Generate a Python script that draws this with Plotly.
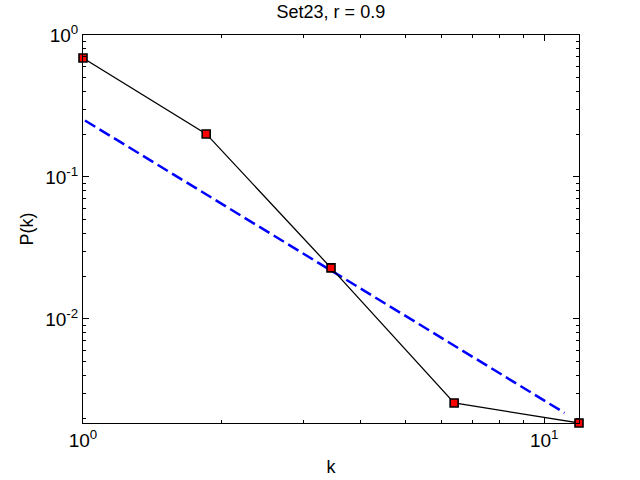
import plotly.graph_objects as go
import math

# data
k_vals = [1.0, 1.85, 3.45, 6.38, 11.9]
p_vals = [0.689, 0.201, 0.0229, 0.00256, 0.00185]
fit_k = [1.01, 11.07]
fit_p = [0.25, 0.00218]
title_text = "Set23, r = 0.9"
x_ticks = [1, 10]
x_ticklabels = ["10<sup>0</sup>", "10<sup>1</sup>"]
y_ticks = [0.01, 0.1, 1]
y_ticklabels = ["10<sup>-2</sup>", "10<sup>-1</sup>", "10<sup>0</sup>"]
x_minor = [2, 3, 4, 5, 6, 7, 8, 9]
y_minor = [m * 10.0 ** e for e in (-3, -2, -1) for m in range(2, 10)]

font = "Liberation Sans, Arial, Helvetica, sans-serif"

fig = go.Figure()
fig.add_trace(go.Scatter(x=fit_k, y=fit_p, mode="lines",
                         line=dict(color="#0000ff", width=2.5, dash="12px,5px"),
                         showlegend=False))
fig.add_trace(go.Scatter(x=k_vals, y=p_vals, mode="lines+markers",
                         line=dict(color="black", width=1.3),
                         marker=dict(symbol="square", size=8, color="#ff0000",
                                     line=dict(color="black", width=1.6)),
                         showlegend=False, cliponaxis=False))

axis_common = dict(type="log", showgrid=False, zeroline=False, showline=True,
                   linecolor="black", linewidth=1, mirror="ticks", ticks="inside",
                   ticklen=6, tickcolor="black", tickwidth=1, automargin=False,
                   tickfont=dict(family=font, size=19, color="black"))

fig.update_layout(
    width=640, height=480,
    margin=dict(l=83, r=61, t=35, b=57),
    paper_bgcolor="white", plot_bgcolor="white",
    title=dict(text=title_text, x=0.517, xanchor="center", y=1 - 12 / 480, yanchor="middle",
               font=dict(family=font, size=18, color="black")),
    xaxis=dict(**axis_common, range=[0, math.log10(k_vals[-1])],
               tickmode="array", tickvals=x_ticks, ticktext=x_ticklabels,
               minor=dict(tickvals=x_minor, ticks="inside", ticklen=3, tickcolor="black"),
               title=dict(text="k", font=dict(family=font, size=18, color="black"), standoff=10)),
    yaxis=dict(**axis_common, range=[math.log10(p_vals[-1]), 0],
               tickmode="array", tickvals=y_ticks, ticktext=y_ticklabels,
               minor=dict(tickvals=y_minor, ticks="inside", ticklen=3, tickcolor="black"),
               title=dict(text="P(k)", font=dict(family=font, size=18, color="black"), standoff=6)),
)

fig.write_html("out.html", config={"displayModeBar": False},
               post_script="document.body.style.margin='0';")
